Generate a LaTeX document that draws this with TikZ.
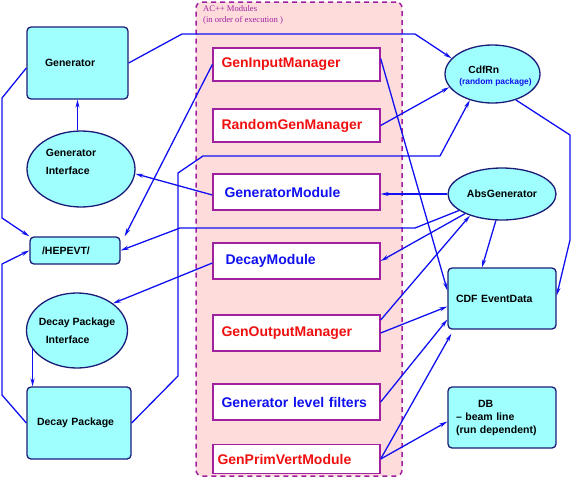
\documentclass[tikz,border=0pt]{standalone}
\usepackage{fontspec}
\setmainfont{Liberation Sans}
\newfontfamily\serifface{Liberation Serif}
\definecolor{GenCyan}{HTML}{9FFFFF}
\definecolor{GenNavy}{HTML}{1C1C78}
\definecolor{ModPurple}{HTML}{A0209F}
\definecolor{ModPink}{HTML}{FFDCDC}
\definecolor{LinkBlue}{HTML}{1010F0}
\definecolor{ModRed}{HTML}{F01010}
\usetikzlibrary{arrows.meta, shapes.geometric, calc}

\begin{document}
\begin{tikzpicture}[x=1pt, y=-1pt, >={Stealth[length=8pt,width=4pt]},
  pkg/.style={draw=GenNavy, line width=1.3pt, fill=GenCyan, rounded corners=4pt,
              font=\fontsize{10.5}{13}\selectfont\bfseries, align=left, inner ysep=0pt},
  iface/.style={ellipse, draw=GenNavy, line width=1.3pt, fill=GenCyan, inner sep=0pt},
  ifacetext/.style={font=\fontsize{10.5}{18}\selectfont\bfseries, align=left},
  mod/.style={draw=ModPurple, line width=1.3pt, fill=white, text width=150pt,
              inner xsep=8.5pt, inner ysep=0pt, align=left,
              font=\fontsize{14}{16}\selectfont\bfseries},
  link/.style={->, LinkBlue, line width=1.3pt, line join=round}]
  \useasboundingbox (0,0) rectangle (572,479);

  \node[draw=ModPurple, dash pattern=on 5pt off 4pt, line width=1.5pt, fill=ModPink,
        rounded corners=6pt, minimum width=206pt, minimum height=474pt] (acpp) at (299,239) {};
  \node[anchor=north west, align=left, text=ModPurple, inner sep=0pt,
        font=\serifface\fontsize{8.6}{11}\selectfont] (acpptitle) at (203,5)
        {AC++ Modules\\(in order of execution )};

  \node[mod, text=ModRed, minimum height=33pt] (gim) at (296.5,64.5) {GenInputManager};
  \node[mod, text=ModRed, minimum height=33pt] (rgm) at (296.5,125.5) {RandomGenManager};
  \node[mod, text=LinkBlue, minimum height=36pt] (gmod) at (296.5,192) {\hspace*{3pt}GeneratorModule};
  \node[mod, text=LinkBlue, minimum height=36pt] (dmod) at (296.5,261) {\hspace*{4pt}DecayModule};
  \node[mod, text=ModRed, minimum height=36pt] (gom) at (296.5,333) {GenOutputManager};
  \node[mod, text=LinkBlue, minimum height=36pt] (glf) at (296.5,402) {Generator level filters};
  \node[mod, text=ModRed, minimum height=29pt] (gpv) at (296.5,459) {\hspace*{-4pt}GenPrimVertModule};

  \node[pkg, text width=65pt, inner xsep=18pt, minimum height=72pt] (gen) at (77.5,63) {Generator};
  \node[pkg, text width=66pt, inner xsep=12pt, minimum height=27pt] (hep) at (75,250.5) {/HEPEVT/};
  \node[pkg, text width=84pt, inner xsep=10pt, minimum height=72pt] (dp) at (79,423) {Decay Package};
  \node[pkg, text width=92pt, inner xsep=8pt, minimum height=61pt] (evt) at (502,298.5) {CDF EventData};
  \node[pkg, text width=92pt, inner xsep=8pt, minimum height=61pt] (db) at (502,417.5)
        {\hspace*{22pt}DB\\\textendash{} beam line\\(run dependent)};

  \node[iface, minimum width=108pt, minimum height=76pt,
        label={[ifacetext, xshift=-10pt, yshift=7pt]center:Generator\\Interface}] (geni) at (81,169) {};
  \node[iface, minimum width=101pt, minimum height=75pt,
        label={[ifacetext]center:Decay Package\\\hspace*{7pt}Interface}] (dpi) at (77,330.5) {};
  \node[iface, minimum width=95pt, minimum height=58pt,
        label={[align=left, xshift=3pt, yshift=-2pt, font=\fontsize{10.3}{11}\selectfont\bfseries]center:\hspace*{9pt}CdfRn\\{\fontsize{8.4}{10}\selectfont\color{LinkBlue}(random package)}}] (cdfrn) at (492.5,74) {};
  \node[iface, minimum width=108pt, minimum height=52pt,
        font=\fontsize{10.5}{13}\selectfont\bfseries] (absg) at (502,194) {AbsGenerator};

  \draw[link] (gen.east) -- (182,34) -- (415,34) -- (cdfrn.159);
  \draw[link] ([yshift=-5pt]gen.west) -- (2,98) -- (2,218) -- (hep.north west);
  \draw[link] (geni.north -| gen.south) -- (gen.south);
  \draw[link] ([yshift=-3pt]gmod.west) -- (geni.-5);
  \draw[link] (gim.west) -- ([xshift=4pt]hep.north east);
  \draw[link] (absg.west) -- (absg.west -| gmod.east);
  \draw[link] (absg.201) -- (415,228) -- (180,228) -- (hep.east);
  \draw[link] (absg.208) -- (dmod.east);
  \draw[link] ([yshift=13pt]gom.east) -- (absg.214);
  \draw[link] (absg.257) -- ([xshift=-20pt]evt.north);
  \draw[link] ([yshift=6pt]gim.east) -- ([yshift=8pt]evt.west);
  \draw[link] (rgm.east) -- (cdfrn.197);
  \draw[link] (dp.east) -- (178,376) -- (178,173) -- (203,156) -- (440,156) -- (cdfrn.229);
  \draw[link] ([yshift=-2pt]dmod.west) -- (dpi.37);
  \draw[link] (dpi.203) -- (dpi.203 |- dp.north);
  \draw[link] (dp.west) -- (2,395) -- (2,264) -- (hep.west);
  \draw[link] (gom.east) -- ([yshift=-8pt]evt.west);
  \draw[link] (glf.east) -- ([yshift=-21pt]evt.west);
  \draw[link] (gpv.east) -- ([xshift=4pt,yshift=-4pt]evt.south west);
  \draw[link] (gpv.east) -- ([yshift=-4pt]db.west);
  \draw[link] (cdfrn.-48) -- (570,135) -- (570,240) -- ([yshift=3pt]evt.east);
\end{tikzpicture}
\end{document}
